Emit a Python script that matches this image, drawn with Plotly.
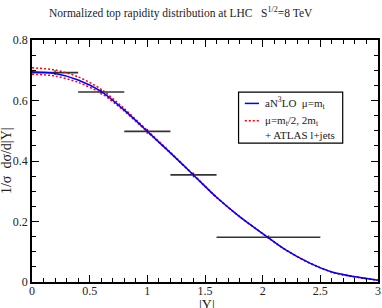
import plotly.graph_objects as go

# Theory curves
y_abs = [0.0, 0.2, 0.4, 0.6, 0.8, 1.0, 1.2, 1.4, 1.6, 1.8, 2.0, 2.2, 2.4, 2.6, 2.8, 3.0]
an3lo = [0.695, 0.689, 0.668, 0.630, 0.568, 0.498, 0.427, 0.354, 0.280, 0.216, 0.160, 0.106, 0.064, 0.033, 0.017, 0.006]
scale_hi = [0.708, 0.701, 0.678, 0.637, 0.573, 0.501, 0.429, 0.355, 0.281, 0.216, 0.160, 0.106, 0.064, 0.033, 0.017, 0.006]
scale_lo = [0.687, 0.681, 0.660, 0.624, 0.565, 0.496, 0.426, 0.353, 0.279, 0.216, 0.160, 0.106, 0.064, 0.033, 0.017, 0.006]

# ATLAS l+jets data
bin_lo = [0.0, 0.4, 0.8, 1.2, 1.6]
bin_hi = [0.4, 0.8, 1.2, 1.6, 2.5]
data_y = [0.692, 0.628, 0.498, 0.354, 0.148]
data_err = [0.008, 0.008, 0.008, 0.008, 0.006]

legend_labels = ["aN<sup>3</sup>LO  μ=m<sub>t</sub>", "μ=m<sub>t</sub>/2, 2m<sub>t</sub>", "+ ATLAS l+jets"]

centers = [(a + b) / 2 for a, b in zip(bin_lo, bin_hi)]
halfw = [(b - a) / 2 for a, b in zip(bin_lo, bin_hi)]

FONT = "Liberation Serif, Times New Roman, DejaVu Serif, serif"
TXT = "#222222"
BLUE = "#0000ff"
RED = "#ff0000"
DOT = "2px,2px"
fig = go.Figure()

fig.add_trace(go.Scatter(
    x=centers, y=data_y, mode="markers",
    marker=dict(size=1, color="#333333"),
    error_x=dict(type="data", array=halfw, width=0, thickness=1.6, color="#333333"),
    error_y=dict(type="data", array=data_err, width=0, thickness=1.4, color="#333333"),
    name="+ ATLAS l+jets",
))
fig.add_trace(go.Scatter(
    x=y_abs, y=scale_hi, mode="lines", line=dict(color=RED, width=1.5, dash=DOT, shape="spline", smoothing=0.8),
    name="μ=m_t/2",
))
fig.add_trace(go.Scatter(
    x=y_abs, y=scale_lo, mode="lines", line=dict(color=RED, width=1.5, dash=DOT, shape="spline", smoothing=0.8),
    name="μ=2m_t",
))
fig.add_trace(go.Scatter(
    x=y_abs, y=an3lo, mode="lines", line=dict(color=BLUE, width=1.5, shape="spline", smoothing=0.8),
    name="aN3LO μ=m_t",
))

axis_common = dict(
    showline=True, linecolor="black", linewidth=1.5, mirror="ticks",
    ticks="inside", tickcolor="black", tickwidth=1.2, ticklen=7,
    showgrid=False, zeroline=False, automargin=False,
    tickfont=dict(family=FONT, size=12, color=TXT),
)

fig.update_xaxes(
    range=[0, 3], dtick=0.5, tick0=0, ticklabelstandoff=-3,
    minor=dict(dtick=0.1, ticklen=4, tickcolor="black", tickwidth=1.2, ticks="inside"),
    **axis_common,
)
fig.update_yaxes(
    range=[0, 0.8], dtick=0.2, tick0=0,
    minor=dict(dtick=0.05, ticklen=4, tickcolor="black", tickwidth=1.2, ticks="inside"),
    **axis_common,
)

fig.add_annotation(text="|Y|", xref="paper", yref="paper", x=0.505, y=-0.058,
                   xanchor="center", yanchor="top", showarrow=False,
                   font=dict(family=FONT, size=14, color=TXT))
fig.add_annotation(text="1/σ  dσ/d|Y|", xref="paper", yref="paper", x=-0.075, y=0.5,
                   xanchor="center", yanchor="middle", textangle=-90, showarrow=False,
                   font=dict(family=FONT, size=14, color=TXT))
fig.add_annotation(text="Normalized top rapidity distribution at LHC   S<sup>1/2</sup>=8 TeV",
                   xref="paper", yref="paper", x=0.43, y=1.115,
                   xanchor="center", yanchor="middle", showarrow=False,
                   font=dict(family=FONT, size=11.5, color=TXT))

# Legend box (drawn manually to match the compact reference legend)
fig.add_shape(type="rect", xref="paper", yref="paper", x0=0.597, x1=0.898, y0=0.574, y1=0.785,
              line=dict(color="black", width=1.2), fillcolor="white", layer="above")
leg_y = [0.738, 0.666, 0.607]
fig.add_shape(type="line", xref="paper", yref="paper", x0=0.615, x1=0.656, y0=leg_y[0], y1=leg_y[0],
              line=dict(color=BLUE, width=1.5), layer="above")
fig.add_shape(type="line", xref="paper", yref="paper", x0=0.615, x1=0.656, y0=leg_y[1], y1=leg_y[1],
              line=dict(color=RED, width=1.5, dash=DOT), layer="above")
for lbl, yy in zip(legend_labels, leg_y):
    fig.add_annotation(text=lbl, xref="paper", yref="paper", x=0.668, y=yy,
                       xanchor="left", yanchor="middle", showarrow=False,
                       font=dict(family=FONT, size=11, color=TXT))

fig.update_layout(
    width=382, height=308,
    margin=dict(l=32, r=4, t=40, b=26, autoexpand=False),
    paper_bgcolor="white", plot_bgcolor="white",
    showlegend=False,
)

fig.write_html("out.html", config={"displayModeBar": False},
               post_script="document.body.style.margin='0';document.body.style.padding='0';")
